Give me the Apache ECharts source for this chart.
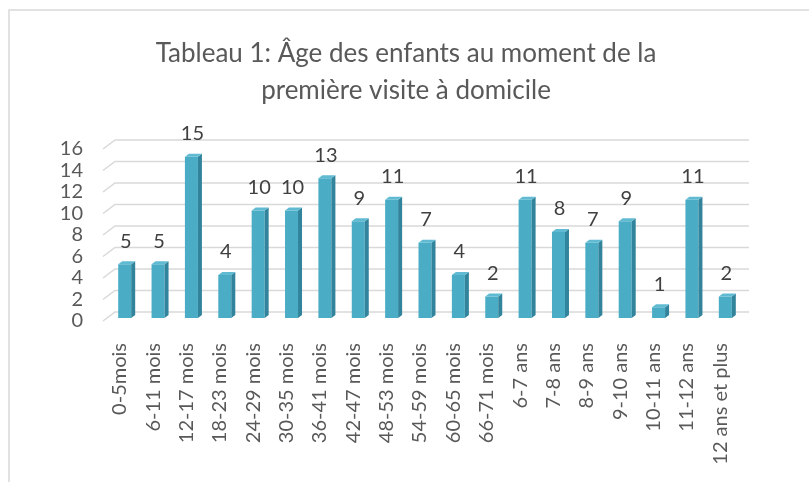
<!DOCTYPE html>
<html>
<head>
<meta charset="utf-8">
<script src="https://cdn.jsdelivr.net/npm/echarts@6/dist/echarts.min.js"></script>
<style>
  html, body { margin: 0; padding: 0; background: #fff; }
  #main { width: 809px; height: 482px; }
</style>
</head>
<body>
<div id="main"></div>
<script>
var categories = ['0-5mois', '6-11 mois', '12-17 mois', '18-23 mois', '24-29 mois', '30-35 mois',
  '36-41 mois', '42-47 mois', '48-53 mois', '54-59 mois', '60-65 mois', '66-71 mois',
  '6-7 ans', '7-8 ans', '8-9 ans', '9-10 ans', '10-11 ans', '11-12 ans', '12 ans et plus'];
var values = [5, 5, 15, 4, 10, 10, 13, 9, 11, 7, 4, 2, 11, 8, 7, 9, 1, 11, 2];
var yTicks = [0, 2, 4, 6, 8, 10, 12, 14, 16];

var FONT = 'Lato, "Open Sans", sans-serif';
// 3d look: back wall offset, bar offset and depth
var WALL_DX = 12, WALL_DY = -9;
var BAR_DX = 5, BAR_DY = -3;
var BAR_W = 13, DEPTH_X = 4, DEPTH_Y = -3;

var chart = echarts.init(document.getElementById('main'));

function renderGrid(params, api) {
  var cs = params.coordSys;
  var y = api.coord([0, api.value(0)])[1];
  var x0 = cs.x, x1 = cs.x + cs.width;
  return {
    type: 'polyline',
    shape: { points: [[x0, y], [x0 + WALL_DX, y + WALL_DY], [x1 + WALL_DX, y + WALL_DY]] },
    style: { stroke: '#d9d9d9', lineWidth: 1.5, fill: null },
    silent: true
  };
}

function renderBar(params, api) {
  var top = api.coord([api.value(0), api.value(1)]);
  var base = api.coord([api.value(0), 0]);
  var cx = top[0] + BAR_DX;
  var x0 = cx - BAR_W / 2, x1 = cx + BAR_W / 2;
  var yt = top[1] + BAR_DY, yb = base[1] + BAR_DY;
  return {
    type: 'group',
    children: [
      { type: 'rect', shape: { x: x0, y: yt, width: BAR_W, height: yb - yt },
        style: { fill: '#4bacc6' } },
      { type: 'polygon', shape: { points: [[x1, yt], [x1 + DEPTH_X, yt + DEPTH_Y], [x1 + DEPTH_X, yb + DEPTH_Y], [x1, yb]] },
        style: { fill: '#31849b' } },
      { type: 'polygon', shape: { points: [[x0, yt], [x0 + DEPTH_X, yt + DEPTH_Y], [x1 + DEPTH_X, yt + DEPTH_Y], [x1, yt]] },
        style: { fill: '#5fbad2' } },
      { type: 'text', style: { text: String(api.value(1)), x: cx + 1, y: yt - 23,
        textAlign: 'center', textVerticalAlign: 'middle', font: '20px ' + FONT, fill: '#404040' } }
    ]
  };
}

var option = {
  animation: false,
  backgroundColor: '#ffffff',
  title: {
    text: 'Tableau 1: Âge des enfants au moment de la\npremière visite à domicile',
    left: 401,
    top: 30,
    textAlign: 'center',
    textStyle: { fontFamily: FONT, fontSize: 26, fontWeight: 'normal', color: '#595959', lineHeight: 37 }
  },
  graphic: [{
    type: 'rect', silent: true,
    shape: { x: 9, y: 10, width: 820, height: 500 },
    style: { fill: null, stroke: '#d9d9d9', lineWidth: 1.5 }
  }],
  grid: { left: 103, right: 72, top: 149, bottom: 161 },
  xAxis: {
    type: 'category',
    data: categories,
    axisLine: { show: false },
    axisTick: { show: false },
    axisLabel: { rotate: 90, interval: 0, margin: 22, fontFamily: FONT, fontSize: 20, color: '#595959' }
  },
  yAxis: {
    type: 'value',
    min: 0, max: 16, interval: 2,
    axisLine: { show: false },
    axisTick: { show: false },
    splitLine: { show: false },
    axisLabel: { margin: 20, fontFamily: FONT, fontSize: 20, color: '#595959' }
  },
  series: [
    {
      type: 'custom',
      renderItem: renderGrid,
      data: yTicks.map(function (t) { return [t]; }),
      encode: { y: 0 },
      silent: true,
      z: 1
    },
    {
      type: 'custom',
      renderItem: renderBar,
      data: values.map(function (v, i) { return [i, v]; }),
      encode: { x: 0, y: 1 },
      z: 2
    }
  ]
};

chart.setOption(option);
</script>
</body>
</html>
